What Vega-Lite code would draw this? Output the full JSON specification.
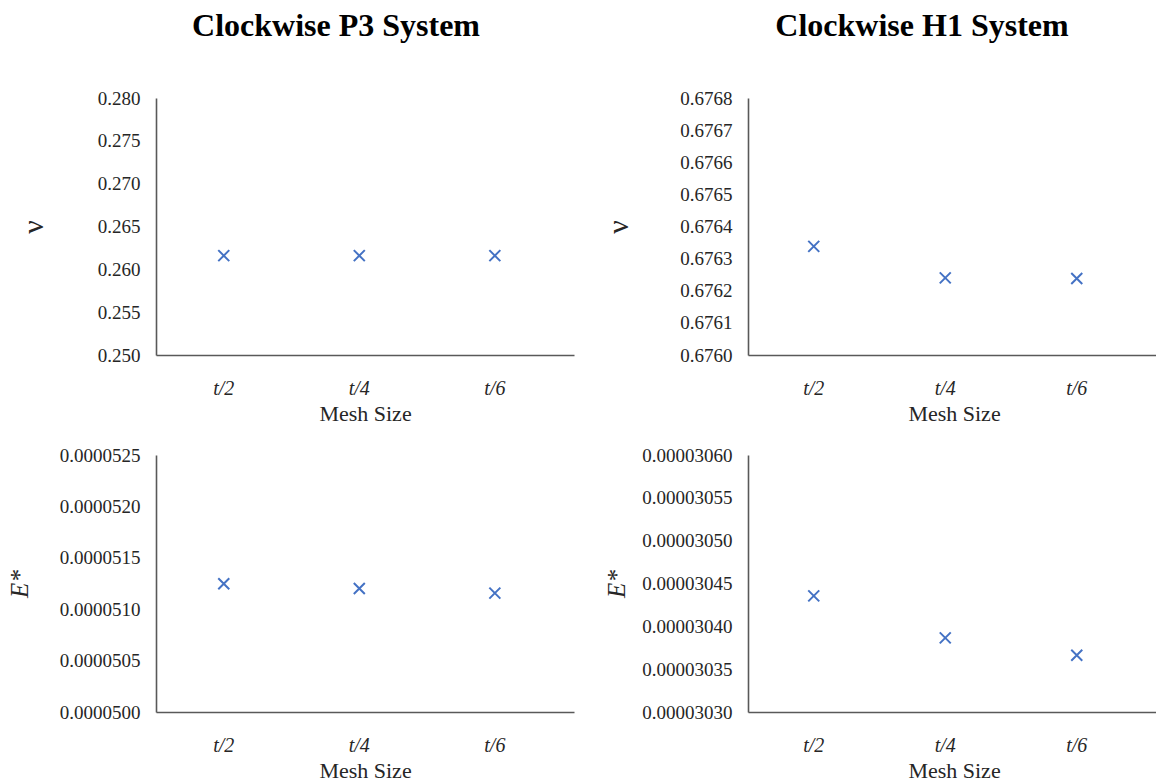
{
  "$schema": "https://vega.github.io/schema/vega-lite/v6.json",
  "background": "white",
  "padding": {"left": 7, "top": 10, "right": 0, "bottom": 0},
  "data": {
    "values": [
      {"system": "P3", "quantity": "nu", "mesh": "t/2", "value": 0.2616},
      {"system": "P3", "quantity": "nu", "mesh": "t/4", "value": 0.2616},
      {"system": "P3", "quantity": "nu", "mesh": "t/6", "value": 0.2616},
      {"system": "H1", "quantity": "nu", "mesh": "t/2", "value": 0.676338},
      {"system": "H1", "quantity": "nu", "mesh": "t/4", "value": 0.67624},
      {"system": "H1", "quantity": "nu", "mesh": "t/6", "value": 0.676238},
      {"system": "P3", "quantity": "E", "mesh": "t/2", "value": 0.0000512468},
      {"system": "P3", "quantity": "E", "mesh": "t/4", "value": 0.0000512014},
      {"system": "P3", "quantity": "E", "mesh": "t/6", "value": 0.0000511560},
      {"system": "H1", "quantity": "E", "mesh": "t/2", "value": 0.0000304356},
      {"system": "H1", "quantity": "E", "mesh": "t/4", "value": 0.0000303865},
      {"system": "H1", "quantity": "E", "mesh": "t/6", "value": 0.0000303662}
    ]
  },
  "columns": 2,
  "bounds": "flush",
  "spacing": {"row": 100, "column": 174},
  "config": {
    "view": {"stroke": null},
    "font": "Liberation Serif",
    "axis": {
      "domainColor": "#595959",
      "domainWidth": 1.6,
      "ticks": false,
      "grid": false,
      "labelFont": "Liberation Serif",
      "titleFont": "Liberation Serif",
      "labelColor": "#262626",
      "titleColor": "#262626",
      "titleFontWeight": "normal"
    },
    "axisX": {
      "labelFontSize": 20,
      "labelFontStyle": "italic",
      "labelPadding": 23,
      "labelAngle": 0,
      "titleFontSize": 22,
      "titlePadding": 5
    },
    "axisY": {
      "labelFontSize": 19,
      "labelPadding": 16,
      "titleAngle": -90,
      "titleBaseline": "middle",
      "titleAlign": "center"
    },
    "title": {
      "font": "Liberation Serif",
      "fontSize": 32,
      "fontWeight": "bold",
      "color": "#000000",
      "anchor": "middle"
    }
  },
  "concat": [
    {
      "width": 418,
      "height": 257,
      "title": {"text": "Clockwise P3 System", "offset": 46, "dx": -29},
      "transform": [{"filter": "datum.system === 'P3' && datum.quantity === 'nu'"}],
      "mark": {"type": "point", "shape": "M-1,-1L1,1M1,-1L-1,1", "filled": false, "size": 121, "strokeWidth": 2, "color": "#4472C4", "opacity": 1},
      "encoding": {
        "x": {"field": "mesh", "type": "ordinal", "sort": ["t/2", "t/4", "t/6"],
              "scale": {"type": "band", "paddingInner": 0, "paddingOuter": 0.042, "align": 0},
              "axis": {"title": "Mesh Size"}},
        "y": {"field": "value", "type": "quantitative",
              "scale": {"domain": [0.25, 0.28], "zero": false, "nice": false},
              "axis": {"title": "ν", "titleFontSize": 30, "titleX": -123, "format": ".3f",
                       "values": [0.25, 0.255, 0.26, 0.265, 0.27, 0.275, 0.28]}}
      }
    },
    {
      "width": 412,
      "height": 257,
      "title": {"text": "Clockwise H1 System", "offset": 46, "dx": -32},
      "transform": [{"filter": "datum.system === 'H1' && datum.quantity === 'nu'"}],
      "mark": {"type": "point", "shape": "M-1,-1L1,1M1,-1L-1,1", "filled": false, "size": 121, "strokeWidth": 2, "color": "#4472C4", "opacity": 1},
      "encoding": {
        "x": {"field": "mesh", "type": "ordinal", "sort": ["t/2", "t/4", "t/6"],
              "scale": {"type": "band", "paddingInner": 0, "paddingOuter": 0.0665, "align": 0},
              "axis": {"title": "Mesh Size"}},
        "y": {"field": "value", "type": "quantitative",
              "scale": {"domain": [0.676, 0.6768], "zero": false, "nice": false},
              "axis": {"title": "ν", "titleFontSize": 30, "titleX": -130, "format": ".4f",
                       "values": [0.676, 0.6761, 0.6762, 0.6763, 0.6764, 0.6765, 0.6766, 0.6767, 0.6768]}}
      }
    },
    {
      "width": 418,
      "height": 257,
      "transform": [{"filter": "datum.system === 'P3' && datum.quantity === 'E'"}],
      "mark": {"type": "point", "shape": "M-1,-1L1,1M1,-1L-1,1", "filled": false, "size": 121, "strokeWidth": 2, "color": "#4472C4", "opacity": 1},
      "encoding": {
        "x": {"field": "mesh", "type": "ordinal", "sort": ["t/2", "t/4", "t/6"],
              "scale": {"type": "band", "paddingInner": 0, "paddingOuter": 0.042, "align": 0},
              "axis": {"title": "Mesh Size"}},
        "y": {"field": "value", "type": "quantitative",
              "scale": {"domain": [0.00005, 0.0000525], "zero": false, "nice": false},
              "axis": {"title": "E*", "titleFontSize": 25, "titleFontStyle": "italic", "titleX": -137, "format": ".7f",
                       "values": [0.00005, 0.0000505, 0.000051, 0.0000515, 0.000052, 0.0000525]}}
      }
    },
    {
      "width": 412,
      "height": 257,
      "transform": [{"filter": "datum.system === 'H1' && datum.quantity === 'E'"}],
      "mark": {"type": "point", "shape": "M-1,-1L1,1M1,-1L-1,1", "filled": false, "size": 121, "strokeWidth": 2, "color": "#4472C4", "opacity": 1},
      "encoding": {
        "x": {"field": "mesh", "type": "ordinal", "sort": ["t/2", "t/4", "t/6"],
              "scale": {"type": "band", "paddingInner": 0, "paddingOuter": 0.0665, "align": 0},
              "axis": {"title": "Mesh Size"}},
        "y": {"field": "value", "type": "quantitative",
              "scale": {"domain": [0.0000303, 0.0000306], "zero": false, "nice": false},
              "axis": {"title": "E*", "titleFontSize": 25, "titleFontStyle": "italic", "titleX": -132, "format": ".8f",
                       "values": [0.0000303, 0.00003035, 0.0000304, 0.00003045, 0.0000305, 0.00003055, 0.0000306]}}
      }
    }
  ]
}
